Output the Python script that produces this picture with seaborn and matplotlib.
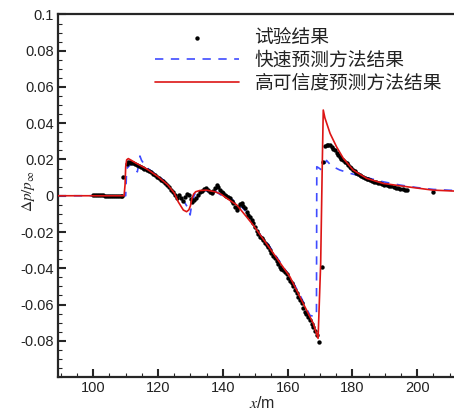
import numpy as np
import pandas as pd
import matplotlib
matplotlib.use("Agg")
import matplotlib.pyplot as plt
from matplotlib.ticker import MultipleLocator, FuncFormatter
import seaborn as sns

# ---------------- data ----------------
exp_x = [100.0, 100.6, 101.2, 101.8, 102.4, 103.0, 103.6, 104.2, 104.8, 105.4, 106.0, 106.6, 107.2, 107.8,
         108.4, 109.0, 109.3, 110.4, 110.8, 111.2, 111.7, 112.2, 112.8, 113.4, 114.0, 114.6, 115.2, 115.8,
         116.5, 117.1, 117.7, 118.3, 119.0, 119.6, 120.2, 120.8, 121.4, 122.0, 122.7, 123.3, 123.9, 124.5,
         125.2, 125.7, 126.5, 127.1, 127.7, 128.3, 128.9, 129.5, 130.1, 130.6, 131.2, 131.8, 132.4, 133.0,
         133.6, 134.2, 134.8, 135.4, 136.0, 136.5, 137.1, 137.6, 138.1, 138.6, 139.1, 139.6, 140.1, 140.6,
         141.1, 141.7, 142.2, 142.7, 143.2, 143.7, 144.3, 144.8, 145.3, 145.8, 146.3, 146.8, 147.3, 147.8,
         148.4, 148.9, 149.4, 149.9, 150.4, 150.9, 151.5, 152.0, 152.5, 153.0, 153.5, 154.0, 154.5, 155.0,
         155.6, 156.1, 156.6, 157.1, 157.6, 158.1, 158.7, 159.2, 159.7, 160.2, 160.7, 161.2, 161.7, 162.2,
         162.8, 163.3, 163.8, 164.3, 164.8, 165.3, 165.8, 166.4, 166.9, 167.4, 167.9, 168.4, 169.0, 169.8,
         170.5, 171.0, 171.5, 172.0, 172.6, 173.1, 173.6, 174.1, 174.6, 175.1, 175.6, 176.1, 176.6, 177.2,
         177.7, 178.2, 178.7, 179.2, 179.7, 180.2, 180.7, 181.2, 181.8, 182.3, 182.8, 183.3, 183.8, 184.4,
         184.9, 185.4, 186.0, 186.7, 187.4, 188.0, 188.5, 189.2, 189.9, 190.6, 191.3, 192.0, 192.7, 193.4,
         194.1, 194.8, 195.5, 196.2, 196.7, 204.9]
exp_y = [0.0005, 0.0006, 0.0004, 0.0005, 0.0004, 0.0003, 0.0001, -0.0001, -0.0002, -0.0002, -0.0003, -0.0002,
         -0.0003, -0.0002, -0.0002, -0.0001, 0.0105, 0.0175, 0.0188, 0.0186, 0.0182, 0.0178, 0.0174, 0.0170,
         0.0165, 0.0160, 0.0154, 0.0148, 0.0142, 0.0136, 0.0129, 0.0122, 0.0114, 0.0105, 0.0097, 0.0088,
         0.0079, 0.0069, 0.0059, 0.0047, 0.0034, 0.0020, 0.0004, -0.0012, 0.0003, -0.0015, -0.0028, -0.0005,
         0.0012, 0.0006, -0.0018, -0.0034, -0.0025, -0.0012, 0.0005, 0.0018, 0.0028, 0.0036, 0.0041, 0.0033,
         0.0022, 0.0014, 0.0028, 0.0045, 0.0058, 0.0046, 0.0032, 0.0022, 0.0014, 0.0006, 0.0001, -0.0005,
         -0.0015, -0.0028, -0.0042, -0.0060, -0.0079, -0.0062, -0.0045, -0.0040, -0.0055, -0.0070, -0.0088,
         -0.0106, -0.0120, -0.0134, -0.0152, -0.0171, -0.0195, -0.0212, -0.0226, -0.0235, -0.0244, -0.0260,
         -0.0272, -0.0285, -0.0300, -0.0315, -0.0330, -0.0345, -0.0360, -0.0376, -0.0392, -0.0405, -0.0412,
         -0.0420, -0.0432, -0.0452, -0.0468, -0.0483, -0.0500, -0.0518, -0.0538, -0.0556, -0.0575, -0.0594,
         -0.0618, -0.0640, -0.0655, -0.0670, -0.0686, -0.0705, -0.0723, -0.0745, -0.0769, -0.0805, -0.0392,
         0.0188, 0.0275, 0.0280, 0.0281, 0.0278, 0.0270, 0.0260, 0.0252, 0.0238, 0.0226, 0.0215, 0.0205,
         0.0196, 0.0188, 0.0179, 0.0170, 0.0161, 0.0151, 0.0142, 0.0136, 0.0128, 0.0120, 0.0114, 0.0108,
         0.0102, 0.0098, 0.0093, 0.0090, 0.0087, 0.0082, 0.0078, 0.0074, 0.0071, 0.0068, 0.0065, 0.0062,
         0.0059, 0.0056, 0.0052, 0.0048, 0.0045, 0.0041, 0.0038, 0.0035, 0.0033, 0.0031, 0.0022]

fast_x = [89.1, 110.0, 110.3, 110.8, 111.8, 112.8, 113.6, 114.4, 114.9, 116.5, 118.0, 120.0, 121.6, 123.7,
          125.7, 127.3, 128.3, 129.3, 129.9, 130.4, 131.0, 131.5, 132.5, 133.5, 134.5, 135.5, 136.5, 137.5,
          138.5, 139.5, 140.5, 141.5, 142.5, 143.5, 144.5, 145.5, 146.5, 147.5, 148.5, 149.4, 150.5, 152.0,
          154.0, 156.0, 158.0, 160.0, 162.0, 164.0, 165.9, 166.9, 168.4, 168.9, 169.0, 169.5, 170.5, 172.0,
          173.5, 176.1, 179.2, 183.3, 189.5, 194.7, 200.0, 205.0, 212.6]
fast_y = [0.0, 0.0, 0.0150, 0.0160, 0.0177, 0.0155, 0.0132, 0.0219, 0.0195, 0.0155, 0.0135, 0.0110, 0.0087,
          0.0041, -0.0014, -0.0024, -0.0040, -0.0070, -0.0106, -0.0045, -0.0005, 0.0015, 0.0025, 0.0018,
          0.0032, 0.0022, 0.0012, 0.0028, 0.0015, 0.0003, -0.0004, 0.0002, -0.0015, -0.0032, -0.0028, -0.0055,
          -0.0075, -0.0095, -0.0108, -0.0165, -0.0195, -0.0225, -0.0268, -0.0322, -0.0375, -0.0428, -0.0488,
          -0.0555, -0.0625, -0.0660, -0.0667, -0.0660, 0.0160, 0.0155, 0.0142, 0.0195, 0.0165, 0.0142, 0.0124,
          0.0105, 0.0077, 0.0059, 0.0045, 0.0035, 0.0028]

hifi_x = [89.1, 109.5, 109.8, 110.0, 110.3, 110.8, 111.5, 113.0, 116.5, 120.0, 123.0, 125.0, 126.2, 127.8,
          128.8, 129.5, 130.0, 130.4, 131.0, 131.6, 132.9, 135.0, 137.6, 139.5, 141.2, 144.3, 147.3, 149.5,
          151.5, 155.6, 160.7, 164.8, 167.9, 169.4, 170.2, 170.7, 171.0, 171.5, 173.1, 175.1, 177.2, 180.2,
          184.4, 189.5, 196.7, 204.9, 212.6]
hifi_y = [0.0, 0.0, 0.0060, 0.0160, 0.0198, 0.0205, 0.0198, 0.0182, 0.0148, 0.0105, 0.0060, 0.0015, -0.0033,
          -0.0079, -0.0088, -0.0078, -0.0055, -0.0018, 0.0010, 0.0022, 0.0029, 0.0031, 0.0022, 0.0008, -0.0014,
          -0.0051, -0.0116, -0.0165, -0.0215, -0.0318, -0.0447, -0.0594, -0.0704, -0.0787, -0.0373, 0.0179,
          0.0473, 0.0430, 0.0344, 0.0270, 0.0206, 0.0142, 0.0096, 0.0068, 0.0050, 0.0031, 0.0025]

labels = ["试验结果", "快速预测方法结果", "高可信度预测方法结果"]
xticks = [100, 120, 140, 160, 180, 200]
yticks = [-0.08, -0.06, -0.04, -0.02, 0, 0.02, 0.04, 0.06, 0.08, 0.1]

# ---------------- figure ----------------
sns.set_style("ticks")
plt.rcParams["font.family"] = ["Liberation Sans", "Noto Sans CJK SC", "DejaVu Sans"]
plt.rcParams["axes.unicode_minus"] = False
plt.rcParams["mathtext.fontset"] = "stix"

W, H = 454, 411
fig = plt.figure(figsize=(W / 100, H / 100), dpi=100)
ax = fig.add_axes([58 / W, 1 - 377 / H, (458 - 58) / W, (377 - 14.5) / H])

df_exp = pd.DataFrame({"x": exp_x, "y": exp_y})
df_fast = pd.DataFrame({"x": fast_x, "y": fast_y})
df_hifi = pd.DataFrame({"x": hifi_x, "y": hifi_y})

sns.scatterplot(data=df_exp, x="x", y="y", ax=ax, color="black", s=10, linewidth=0,
                label=labels[0], zorder=3)
sns.lineplot(data=df_fast, x="x", y="y", ax=ax, color="#3f4cff", linewidth=1.2,
             linestyle=(0, (5, 4.5)), sort=False, estimator=None, label=labels[1], zorder=2)
sns.lineplot(data=df_hifi, x="x", y="y", ax=ax, color="#dd1515", linewidth=1.2,
             sort=False, estimator=None, label=labels[2], zorder=4)

ax.set_xlim(89.1, 212.6)
ax.set_ylim(-0.1, 0.1)
ax.set_xticks(xticks)
ax.set_yticks(yticks)
ax.xaxis.set_minor_locator(MultipleLocator(5))
ax.yaxis.set_minor_locator(MultipleLocator(0.005))
ax.yaxis.set_major_formatter(FuncFormatter(lambda v, p: f"{round(v, 3):g}"))
ax.tick_params(axis="both", which="major", direction="in", length=6, width=1.5,
               labelsize=10.5, pad=3, top=False, right=False, labelcolor="#222222")
ax.tick_params(axis="both", which="minor", direction="in", length=3, width=0.8,
               top=False, right=False)
for s in ax.spines.values():
    s.set_linewidth(1.6)
ax.spines["right"].set_visible(False)

ax.set_xlabel(r"$x$/m", fontsize=11.5, labelpad=0)
ax.set_ylabel(r"$\Delta p/p_\infty$", fontsize=11, labelpad=0)
ax.xaxis.set_label_coords((262 - 58) / 400, -(395 - 377) / 362.5)
ax.yaxis.set_label_coords(-(58 - 37) / 400, 1 - (191 - 14.5) / 362.5)

handles, labs = ax.get_legend_handles_labels()
leg = ax.legend(handles, labs, loc="upper left",
                bbox_to_anchor=((155 - 58) / 400, 1 - (27 - 14.5) / 362.5),
                frameon=False, handlelength=4.5, handletextpad=0.8,
                labelspacing=0.1, borderaxespad=0, borderpad=0, markerscale=1.0,
                prop={"family": ["Noto Sans CJK SC"], "size": 13.5, "weight": "light"})
for t in leg.get_texts():
    t.set_color("#222222")

fig.savefig("out.png", dpi=100)
